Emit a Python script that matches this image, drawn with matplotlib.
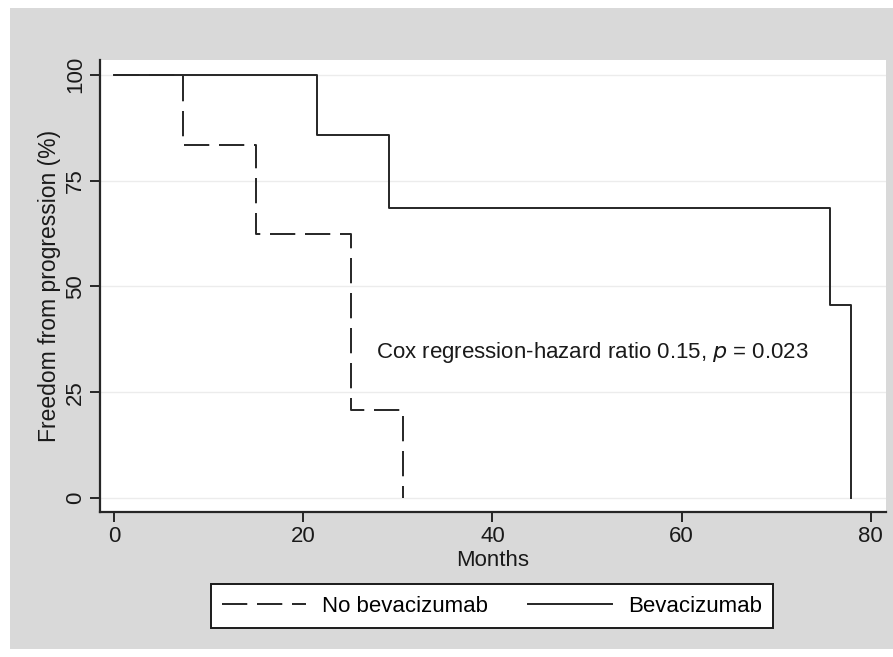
import matplotlib
matplotlib.use("Agg")
import matplotlib.pyplot as plt
from matplotlib.patches import Rectangle

plt.rcParams['font.family'] = ['Liberation Sans', 'DejaVu Sans']

# Kaplan-Meier step data
bev_months = [0, 21.5, 29.1, 75.7, 77.9]
bev_surv = [100, 85.71, 68.57, 45.71, 0]
nobev_months = [0, 7.3, 15.0, 25.0, 30.5]
nobev_surv = [100, 83.33, 62.5, 20.83, 0]

x_ticks = [0, 20, 40, 60, 80]
y_ticks = [0, 25, 50, 75, 100]
note = "Cox regression-hazard ratio 0.15, $\\it{p}$ = 0.023"

W, H = 893, 657
fig = plt.figure(figsize=(W / 100, H / 100), dpi=100)
fig.patch.set_facecolor('white')
fig.patches.append(Rectangle((10 / W, 0.012), 1 - 10 / W, 1 - 8 / H - 0.012,
                             transform=fig.transFigure, facecolor='#d9d9d9',
                             edgecolor='none', zorder=-10))

ax = fig.add_axes([100 / W, 1 - 512 / H, 786 / W, 452 / H])
ax.set_facecolor('white')
line_col = '#262626'

for y in y_ticks:
    ax.axhline(y, color='#ececec', lw=1.0, zorder=1)

ax.step(nobev_months, nobev_surv, where='post', color=line_col, lw=1.4,
        dashes=(13, 5), label='No bevacizumab', zorder=3)
ax.step(bev_months, bev_surv, where='post', color=line_col, lw=1.4,
        label='Bevacizumab', zorder=3)

ax.set_xlim(-1.48, 81.6)
ax.set_ylim(-3.3, 103.5)
ax.set_xticks(x_ticks)
ax.set_yticks(y_ticks)
ax.set_yticklabels([str(v) for v in y_ticks], rotation=90, va='center')

for s in ['top', 'right']:
    ax.spines[s].set_visible(False)
for s in ['left', 'bottom']:
    ax.spines[s].set_color(line_col)
    ax.spines[s].set_linewidth(1.6)
ax.tick_params(direction='out', length=7, width=1.4, color=line_col,
               labelsize=16, labelcolor='#1a1a1a', pad=3)

ax.set_xlabel('Months', fontsize=16, color='#1a1a1a', labelpad=2)
ax.set_ylabel('Freedom from progression (%)', fontsize=16.5, color='#1a1a1a',
              labelpad=3)

ax.text(27.7, 34.5, note, fontsize=16, color='#1a1a1a', va='center', ha='left')

leg = fig.legend(loc='center', bbox_to_anchor=(492 / W, 1 - 606 / H), ncol=2,
                 fontsize=16, frameon=True, fancybox=False, framealpha=1,
                 handlelength=3.8, columnspacing=1.8, borderpad=0.5,
                 handletextpad=0.7)
leg.get_frame().set_edgecolor('#1a1a1a')
leg.get_frame().set_linewidth(1.4)
leg.get_frame().set_facecolor('white')

fig.savefig('out.png', dpi=100, facecolor=fig.get_facecolor())
